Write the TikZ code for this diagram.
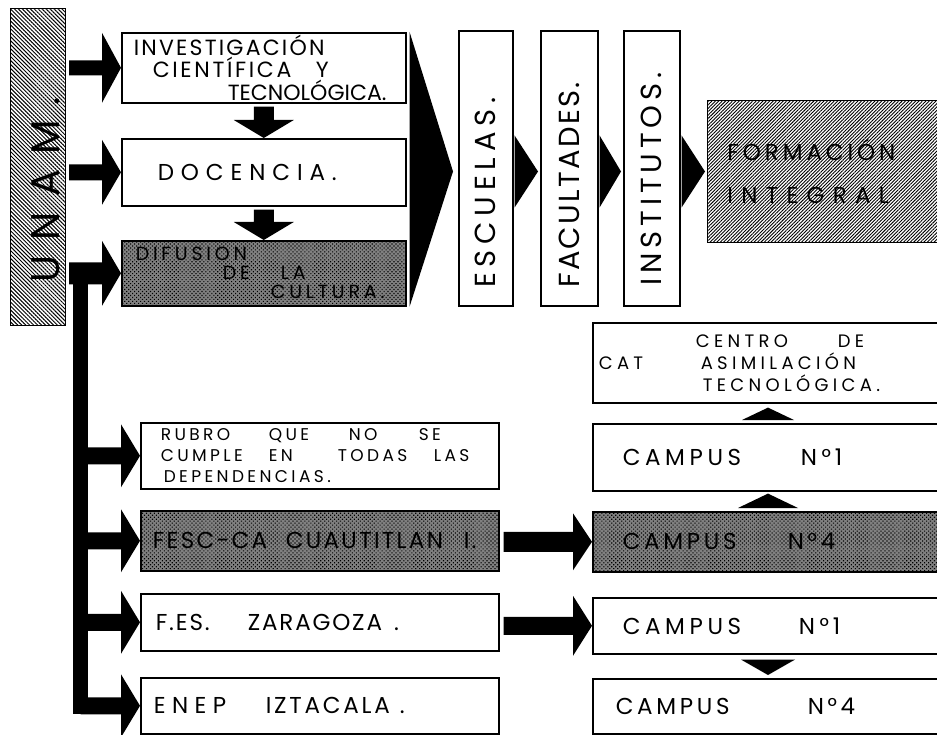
\documentclass[tikz,border=0pt]{standalone}
\usepackage{fontspec}
\setmainfont{Poppins}
\usepackage{xcolor}
\usepackage{graphicx}
\usepackage{tikz}
\usetikzlibrary{calc,patterns.meta}

\begin{document}
\begin{tikzpicture}[x=1pt,y=-1pt,
    box/.style={draw,line width=1.6pt,anchor=north west,inner ysep=0pt,align=left},
    tone/.style={preaction={fill=black!50},pattern={Dots[distance=2.8pt,radius=0.8pt,angle=45]},pattern color=black},
    hatchl/.style={pattern={Lines[angle=-45,distance=2.8pt,line width=1pt]}},
    hatchr/.style={pattern={Lines[angle=45,distance=2.4pt,line width=0.9pt]}}]
    \def\headlen{19}
    \newcommand{\ls}[1]{\addfontfeature{LetterSpace=#1}}
    \newcommand{\fs}[2]{\fontsize{#1}{#2}\selectfont}

    \useasboundingbox (0,0) rectangle (937,735);
    \clip (0,0) rectangle (937,735);

    \node[box,hatchl,minimum width=55,minimum height=317,inner xsep=0pt,align=center,font=\fs{40}{40}] (unam) at (10,8)
        {\rotatebox{90}{\makebox[231pt][l]{\ls{38}UNAM.}\rule{0pt}{43pt}}};

    \node[box,minimum width=284,minimum height=70,inner xsep=12pt,text width=260pt,font=\fs{22}{22.5}] (inv) at (121,32)
        {\mbox{\ls{10}INVESTIGACIÓN}\\ \hspace*{19pt}\makebox[163pt][l]{\ls{12}CIENTÍFICA}Y\\ \hspace*{94pt}\mbox{TECNOLÓGICA.}};
    \node[box,minimum width=284,minimum height=67,inner xsep=36pt,text width=212pt,font=\fs{23}{22}] (doc) at (121,138)
        {\ls{30}DOCENCIA.};
    \node[box,tone,minimum width=284,minimum height=65,inner xsep=14pt,text width=256pt,font=\fs{19}{19}] (dif) at (121,240)
        {\ls{20}DIFUSION\\ \hspace*{87pt}\makebox[58pt][l]{DE}LA\\ \hspace*{135pt}CULTURA.};

    \node[box,minimum width=54,minimum height=275,inner xsep=0pt,align=center,font=\fs{29}{29}] (esc) at (458,30)
        {\rotatebox{90}{\makebox[239pt][l]{\ls{20}ESCUELAS.}}};
    \node[box,minimum width=57,minimum height=275,inner xsep=0pt,align=center,font=\fs{29}{29}] (fac) at (540,30)
        {\rotatebox{90}{\makebox[239pt][l]{\ls{8}FACULTADES.}}};
    \node[box,minimum width=56,minimum height=275,inner xsep=0pt,align=center,font=\fs{29}{29}] (ins) at (623,30)
        {\rotatebox{90}{\makebox[235pt][l]{\ls{17}INSTITUTOS.}}};
    \node[box,hatchr,minimum width=240,minimum height=142,inner xsep=20pt,text width=200pt,font=\fs{23}{43}] (form) at (707,100)
        {{\ls{17}FORMACIÓN}\\{\ls{36}INTEGRAL}};

    \node[box,minimum width=358,minimum height=66,inner xsep=20pt,text width=318pt,font=\fs{17}{21}] (rubro) at (140,422)
        {\ls{20}\makebox[108pt][l]{RUBRO}\makebox[80pt][l]{QUE}\makebox[70pt][l]{NO}SE\\
         \makebox[108pt][l]{CUMPLE}\makebox[69pt][l]{EN}\makebox[96pt][l]{TODAS}LAS\\
         \hspace*{3pt}DEPENDENCIAS.};
    \node[box,tone,minimum width=358,minimum height=60,inner xsep=12pt,text width=334pt,font=\fs{23}{22}] (fesc) at (140,510)
        {\ls{10}\makebox[133pt][l]{FESC-CA}\makebox[178pt][l]{CUAUTITLAN}I.};
    \node[box,minimum width=358,minimum height=57,inner xsep=15pt,text width=328pt,font=\fs{23}{22}] (fes) at (140,593)
        {\ls{8}\makebox[92pt][l]{F.ES.}ZARAGOZA\hspace{12pt}.};
    \node[box,minimum width=358,minimum height=56,inner xsep=13pt,text width=332pt,font=\fs{23}{22}] (enep) at (140,677)
        {\ls{12}\makebox[112pt][l]{\ls{28}ENEP}IZTACALA\hspace{10pt}.};

    \node[box,minimum width=360,minimum height=80,inner xsep=6pt,text width=348pt,font=\fs{18}{22}] (cat) at (592,322)
        {\ls{24}\hspace*{97pt}\makebox[142pt][l]{CENTRO}DE\\ \makebox[102pt][l]{CAT}ASIMILACIÓN\\ \hspace*{104pt}TECNOLÓGICA.};
    \node[box,minimum width=360,minimum height=67,inner xsep=30pt,text width=300pt,font=\fs{23}{22}] (cone) at (592,423)
        {\ls{20}\makebox[178pt][l]{CAMPUS}N°\,1};
    \node[box,tone,minimum width=360,minimum height=60,inner xsep=30pt,text width=300pt,font=\fs{23}{22}] (cfour) at (592,511)
        {\ls{16}\makebox[165pt][l]{CAMPUS}N°\,4};
    \node[box,minimum width=360,minimum height=56,inner xsep=30pt,text width=300pt,font=\fs{23}{22}] (conb) at (592,597)
        {\ls{20}\makebox[176pt][l]{CAMPUS}N°\,1};
    \node[box,minimum width=360,minimum height=55,inner xsep=23pt,text width=314pt,font=\fs{23}{22}] (cfourb) at (592,678)
        {\ls{16}\makebox[192pt][l]{CAMPUS}N°4};

    \newcommand{\blockarrow}[4]{%
        \fill ($(#1 |- #2.west)+(0,#3)$) -- ($(#2.west)+(-\headlen,#3)$)
            -- ($(#2.west)+(-\headlen,#4)$) -- (#2.west)
            -- ($(#2.west)+(-\headlen,-#4)$) -- ($(#2.west)+(-\headlen,-#3)$)
            -- ($(#1 |- #2.west)+(0,-#3)$) -- cycle;
    }
    \newcommand{\blockdown}[2]{%
        \fill ($(#1.south)+(-10,3)$) -- ($(#2.north)+(-10,-18)$) -- ($(#2.north)+(-30,-18)$)
            -- (#2.north) -- ($(#2.north)+(30,-18)$) -- ($(#2.north)+(10,-18)$)
            -- ($(#1.south)+(10,3)$) -- cycle;
    }

    \coordinate (ustart) at (69,0);
    \blockarrow{ustart}{inv}{7.5}{35}
    \blockarrow{ustart}{doc}{8}{32.5}
    \blockarrow{ustart}{dif}{11}{32.5}
    \blockdown{inv}{doc}
    \blockdown{doc}{dif}

    \coordinate (trunk) at (80.5,268);
    \fill ($(trunk)+(-7.5,0)$) rectangle ($(trunk |- enep.west)+(7.5,8.5)$);
    \foreach \n in {rubro,fesc,fes,enep} {
        \blockarrow{trunk}{\n}{8.5}{31.5}
    }

    \coordinate (mid) at (0,171.5);
    \fill ($(inv.north east)+(3,0)$) -- ($(esc.west |- mid)+(-5,0)$) -- ($(dif.south east)+(3,0)$) -- cycle;
    \foreach \a/\b in {esc/fac,fac/ins,ins/form} {
        \fill ($(\a.east |- mid)+(1,-36)$) -- ($(\b.west |- mid)+(-2,0)$) -- ($(\a.east |- mid)+(1,36)$) -- cycle;
    }

    \coordinate (midr) at ($(fesc.east)+(4,0)$);
    \blockarrow{midr}{cfour}{10}{28.5}
    \blockarrow{midr}{conb}{9}{30}

    \coordinate (tx) at (768,0);
    \fill ($(tx |- cone.north)+(-26,-3)$) -- ($(tx |- cat.south)+(0,4)$) -- ($(tx |- cone.north)+(26,-3)$) -- cycle;
    \fill ($(tx |- cfour.north)+(-30,-3)$) -- ($(tx |- cone.south)+(0,2)$) -- ($(tx |- cfour.north)+(30,-3)$) -- cycle;
    \fill ($(tx |- conb.south)+(-27,5)$) -- ($(tx |- cfourb.north)+(0,-3)$) -- ($(tx |- conb.south)+(27,5)$) -- cycle;
\end{tikzpicture}
\end{document}
